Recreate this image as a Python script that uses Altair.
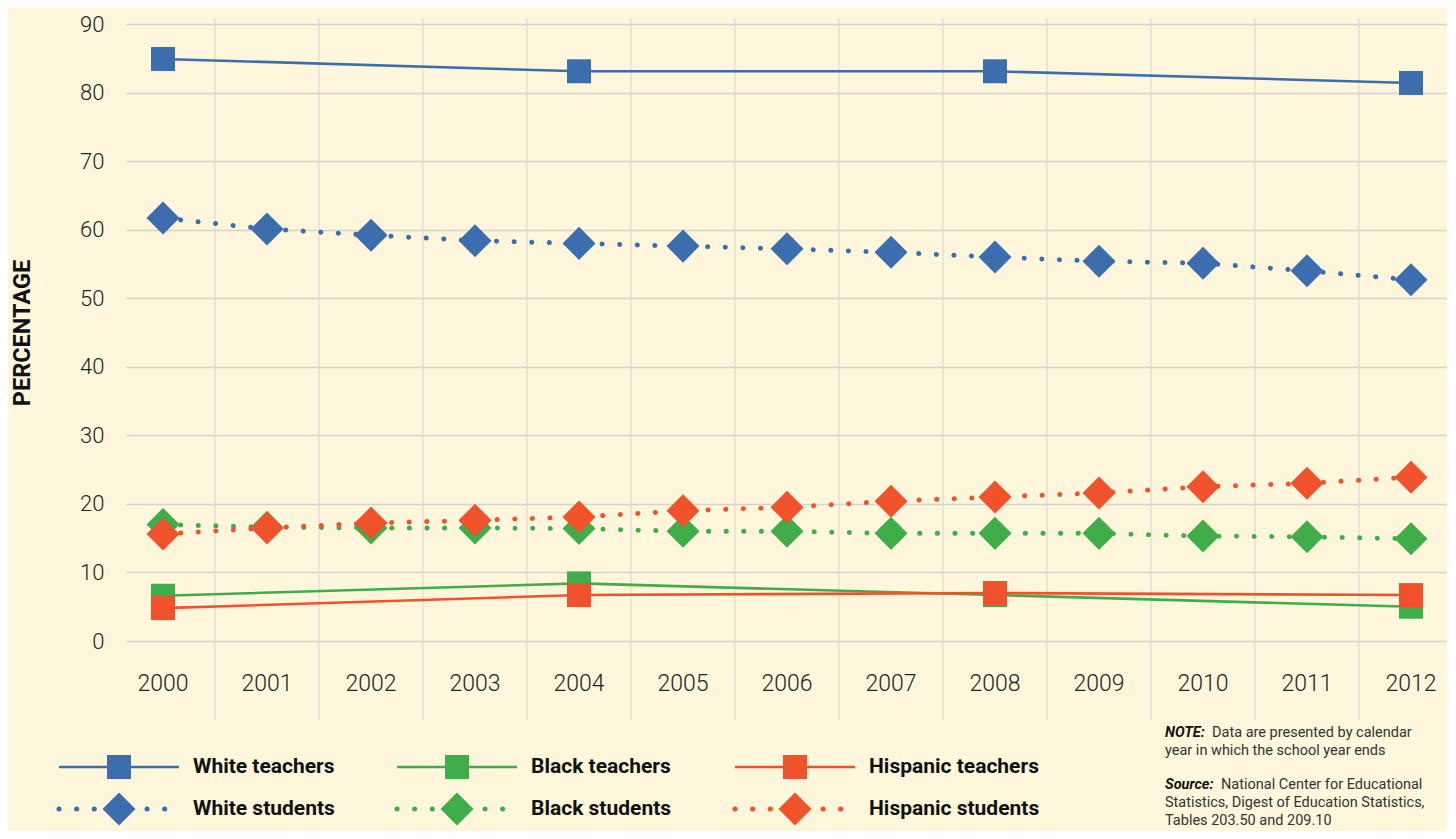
import altair as alt
import pandas as pd

# ---------------- data ----------------
years = [2000, 2001, 2002, 2003, 2004, 2005, 2006, 2007, 2008, 2009, 2010, 2011, 2012]
teacher_years = [2000, 2004, 2008, 2012]

white_teachers = [84.9, 83.1, 83.1, 81.4]
black_teachers = [6.6, 8.4, 6.7, 5.0]
hispanic_teachers = [4.8, 6.7, 7.0, 6.7]

white_students = [61.7, 60.1, 59.2, 58.4, 58.0, 57.6, 57.2, 56.7, 56.0, 55.4, 55.1, 54.0, 52.7]
black_students = [17.0, 16.6, 16.5, 16.5, 16.4, 16.0, 16.0, 15.7, 15.7, 15.7, 15.3, 15.2, 14.9]
hispanic_students = [15.6, 16.5, 17.2, 17.6, 18.1, 19.0, 19.5, 20.4, 21.0, 21.6, 22.5, 23.0, 23.9]

series_names = ["White teachers", "Black teachers", "Hispanic teachers",
                "White students", "Black students", "Hispanic students"]
series_colors = ["#3B6DAF", "#3FAD4A", "#F0522B",
                 "#3B6DAF", "#3FAD4A", "#F0522B"]

y_ticks = [0, 10, 20, 30, 40, 50, 60, 70, 80, 90]

note_lines = [("NOTE:", "Data are presented by calendar"),
              ("", "year in which the school year ends"),
              ("Source:", "National Center for Educational"),
              ("", "Statistics, Digest of Education Statistics,"),
              ("", "Tables 203.50 and 209.10")]

# ---------------- styling ----------------
W, H = 1321, 617
BG = "#FFF6DC"
HGRID = "#D6D3CD"
VGRID = "#E0DDD6"
FONT = "Roboto"

scale_x = alt.Scale(domain=[1999.644, 2012.346], nice=False, zero=False)
y_scale = alt.Scale(domain=[0, 90], nice=False)

y_axis = alt.Axis(values=y_ticks, grid=True, gridColor=HGRID, gridWidth=1.6,
                  domain=False, ticks=False, labelFont=FONT, labelFontSize=22,
                  labelFontWeight=300, labelColor="#222222", labelPadding=22,
                  title="PERCENTAGE", titleFont=FONT, titleFontSize=23.5,
                  titleFontWeight="bold", titleColor="#111111", titleX=-97,
                  titleBaseline="alphabetic")

# ---------------- layers ----------------
grid_df = pd.DataFrame({"b": [y + 0.5 for y in years[:-1]]})
vgrid = alt.Chart(grid_df).mark_rule(color=VGRID, strokeWidth=1.3).encode(
    x=alt.X("b:Q", scale=scale_x, axis=None),
    y=alt.value(-6), y2=alt.value(H + 79))

lab_df = pd.DataFrame({"year": years, "label": [str(y) for y in years]})
xlabels = alt.Chart(lab_df).mark_text(font=FONT, fontSize=23, fontWeight=300,
                                      color="#222222", baseline="middle").encode(
    x=alt.X("year:Q", scale=scale_x, axis=None),
    y=alt.value(H + 43), text="label:N")

layers = [vgrid, xlabels]

series_data = {
    "White teachers": (teacher_years, white_teachers),
    "White students": (years, white_students),
    "Black teachers": (teacher_years, black_teachers),
    "Black students": (years, black_students),
    "Hispanic teachers": (teacher_years, hispanic_teachers),
    "Hispanic students": (years, hispanic_students),
}
color_of = dict(zip(series_names, series_colors))

for name in ["White teachers", "White students", "Black teachers",
             "Black students", "Hispanic teachers", "Hispanic students"]:
    xs, vs = series_data[name]
    df = pd.DataFrame({"year": xs, "value": vs})
    c = color_of[name]
    enc = dict(x=alt.X("year:Q", scale=scale_x, axis=None),
               y=alt.Y("value:Q", scale=y_scale, axis=y_axis))
    if "teachers" in name:
        line = alt.Chart(df).mark_line(color=c, strokeWidth=2.6).encode(**enc)
        pts = alt.Chart(df).mark_point(shape="square", filled=True, opacity=1,
                                       size=576, color=c).encode(**enc)
    else:
        line = alt.Chart(df).mark_line(color=c, strokeWidth=5, strokeCap="round",
                                       strokeDash=[0.1, 17.5]).encode(**enc)
        pts = alt.Chart(df).mark_point(shape="diamond", filled=True, opacity=1,
                                       size=1090, color=c).encode(**enc)
    layers += [line, pts]

# ---------------- legend ----------------
leg_df = pd.DataFrame({"name": series_names, "col": [0, 1, 2, 0, 1, 2],
                       "row": [0, 0, 0, 1, 1, 1]})
color_enc = alt.Color("name:N", scale=alt.Scale(domain=series_names, range=series_colors),
                      legend=None)
leg_base = alt.Chart(leg_df).transform_calculate(
    lx0="-67 + 338 * datum.col",
    lx1="-67 + 338 * datum.col + 120",
    mx="-67 + 338 * datum.col + 60",
    tx="-67 + 338 * datum.col + 134",
    ly=f"{H + 126} + 42 * datum.row",
)
teach = leg_base.transform_filter("datum.row == 0")
stud = leg_base.transform_filter("datum.row == 1")

leg_layers = [
    teach.mark_rule(strokeWidth=2.6).encode(
        x=alt.X("lx0:Q", scale=None), x2="lx1:Q", y=alt.Y("ly:Q", scale=None), color=color_enc),
    teach.mark_point(shape="square", filled=True, opacity=1, size=576).encode(
        x=alt.X("mx:Q", scale=None), y=alt.Y("ly:Q", scale=None), color=color_enc),
    stud.mark_rule(strokeWidth=5, strokeCap="round", strokeDash=[0.1, 17.5]).encode(
        x=alt.X("lx0:Q", scale=None), x2="lx1:Q", y=alt.Y("ly:Q", scale=None), color=color_enc),
    stud.mark_point(shape="diamond", filled=True, opacity=1, size=1090).encode(
        x=alt.X("mx:Q", scale=None), y=alt.Y("ly:Q", scale=None), color=color_enc),
    leg_base.mark_text(font=FONT, fontSize=21, fontWeight="bold", color="#111111",
                       align="left", baseline="middle").encode(
        x=alt.X("tx:Q", scale=None), y=alt.Y("ly:Q", scale=None), text="name:N"),
]
layers += leg_layers

# ---------------- note ----------------
note_df = pd.DataFrame({
    "prefix": [p for p, _ in note_lines],
    "rest": [r for _, r in note_lines],
    "idx": list(range(len(note_lines))),
})
note_base = alt.Chart(note_df).transform_calculate(
    ny=f"{H + 92} + 18 * datum.idx + (datum.idx >= 2 ? 16 : 0)",
    nx="1039 + (datum.prefix == 'NOTE:' ? 47 : (datum.prefix == 'Source:' ? 56 : 0))",
)
note_prefix = note_base.transform_filter("datum.prefix != ''").mark_text(
    font=FONT, fontSize=14.5, fontWeight="bold", fontStyle="italic", color="#111111",
    align="left", baseline="middle").encode(
    x=alt.value(1039), y=alt.Y("ny:Q", scale=None), text="prefix:N")
note_rest = note_base.mark_text(
    font=FONT, fontSize=14.5, color="#333333", align="left", baseline="middle").encode(
    x=alt.X("nx:Q", scale=None), y=alt.Y("ny:Q", scale=None), text="rest:N")
layers += [note_prefix, note_rest]

chart = alt.layer(*layers).resolve_scale(x="independent", color="shared").properties(
    width=W, height=H,
    autosize=alt.AutoSizeParams(type="none"),
    padding={"left": 118, "top": 16, "right": 0, "bottom": 190},
    background=BG,
).configure_view(stroke=None)

chart.save("out.html", embed_options={"renderer": "svg", "actions": False})
